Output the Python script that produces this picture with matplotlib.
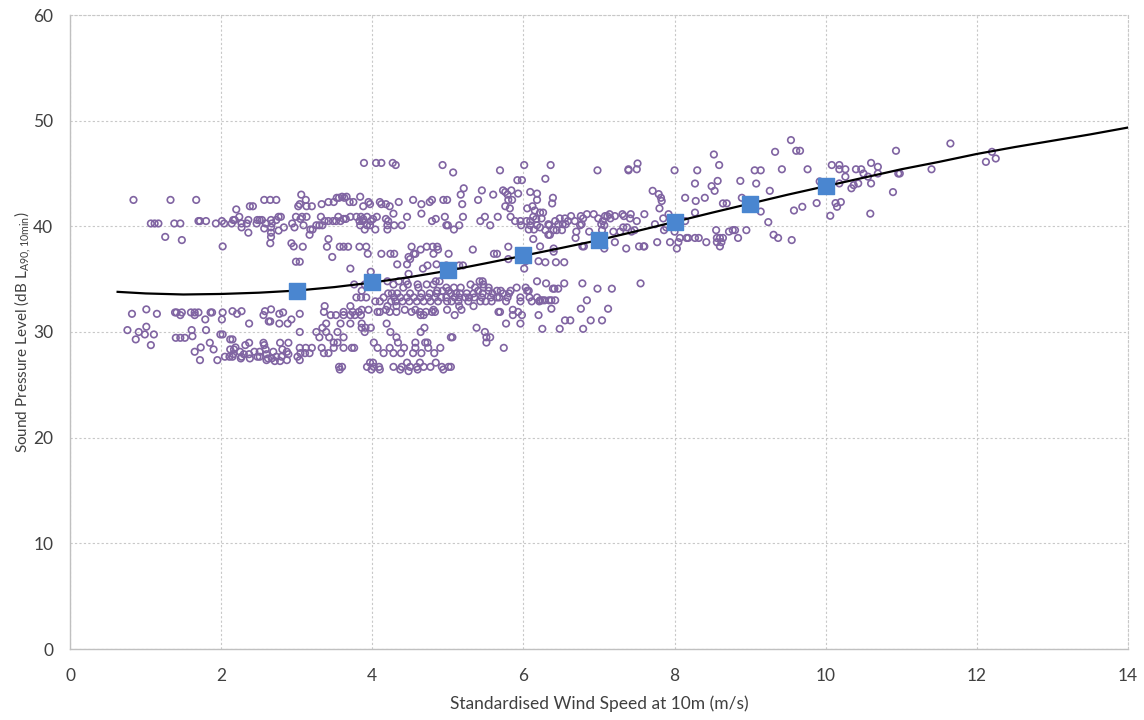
import matplotlib
matplotlib.use("Agg")
import matplotlib.pyplot as plt

# ---------------- data ----------------
# scatter measurements grouped by sound level row: (SPL dB, [wind speeds m/s])
rows_zone_a = [
    (42.5, [0.84, 1.33, 1.67, 2.57, 2.65, 2.73]),
    (41.9, [3.02, 2.38, 2.42]),
    (41.6, [2.2]),
    (40.9, [2.24, 2.76, 2.79, 2.99]),
    (40.6, [2.16, 2.18, 2.36, 2.48, 2.51, 2.54, 2.66, 2.73]),
    (40.5, [1.70, 1.72, 1.8, 2.01]),
    (40.27, [1.07, 1.12, 1.17, 1.38, 1.46, 1.93, 2.04, 2.14, 2.27, 2.34, 2.47, 2.59, 2.67, 2.94]),
    (39.9, [2.27, 2.66, 2.83, 2.97]),
    (39.8, [2.57]),
    (39.6, [2.76]),
    (39.4, [2.36, 2.66]),
    (39.0, [1.26, 2.66]),
    (38.7, [1.48]),
    (38.4, [2.93, 2.65]),
    (38.1, [2.02, 2.96]),
    (36.65, [2.99, 3.04]),
    (32.14, [1.01, 2.66]),
    (31.97, [2.15, 2.27, 2.58]),
    (31.85, [1.39, 1.41, 1.48, 1.6, 1.65, 1.7, 1.86, 1.88, 2.02, 2.82]),
    (31.72, [0.82, 1.15, 2.21, 2.77, 3.04]),
    (31.6, [1.46, 1.65, 2.56]),
    (31.19, [1.79, 2.01, 2.93]),
    (31.0, [2.63, 2.65]),
    (30.8, [2.37, 2.77, 2.88]),
    (30.5, [1.01]),
    (30.18, [0.76, 1.61, 1.8]),
    (30.0, [0.91]),
    (29.77, [0.99, 1.11, 1.99, 2.02]),
    (29.6, [1.62]),
    (29.45, [1.4, 1.46, 1.52]),
    (29.3, [0.87, 2.12, 2.15]),
    (28.98, [1.85, 2.37, 2.56, 2.78, 2.89]),
    (28.76, [1.07, 2.32, 2.57]),
    (28.54, [1.73, 2.19]),
    (28.35, [1.9, 2.12, 2.17, 2.59, 2.81]),
    (28.13, [1.65, 2.25, 2.44, 2.51, 2.69, 2.87]),
    (27.9, [2.16, 2.3, 2.37, 2.6, 2.89]),
    (27.66, [2.05, 2.11, 2.15, 2.27, 2.48, 2.51, 2.73, 2.8, 3.01]),
    (27.5, [2.26, 2.38, 2.62, 2.67]),
    (27.34, [1.72, 1.95, 2.6, 2.87, 3.04]),
    (27.25, [2.71, 2.78]),
]

rows_zone_b = [
    (46.0, [3.89, 4.05, 4.12, 4.27]),
    (45.8, [4.31, 4.93, 6.01]),
    (45.1, [5.07]),
    (45.3, [5.69]),
    (44.37, [5.92, 5.98]),
    (43.6, [5.21]),
    (43.4, [5.45, 5.73, 5.84]),
    (43.25, [5.76, 6.09]),
    (43.1, [5.93, 6.18]),
    (43.0, [3.06, 5.17, 5.6, 5.79]),
    (42.8, [3.6, 3.66, 3.84]),
    (42.7, [3.53, 3.56, 3.63]),
    (42.5, [3.12, 4.54, 4.79, 4.94, 4.99, 5.4, 5.8, 5.85, 6.18]),
    (42.3, [3.42, 3.49, 3.7, 3.75, 3.95, 4.1, 4.35, 4.76]),
    (42.1, [3.04, 3.33, 3.97, 4.12, 4.18, 5.19, 4.65]),
    (41.9, [3.13, 3.2, 3.88, 4.23, 5.76, 6.12]),
    (41.7, [5.82, 6.05]),
    (41.5, [6.15]),
    (41.2, [4.28, 4.65]),
    (40.9, [3.07, 3.13, 3.32, 3.55, 3.71, 3.79, 3.85, 3.93, 4.06, 4.46, 4.96, 5.2, 5.49, 5.66, 5.83, 6.13]),
    (40.7, [3.05, 3.62, 3.65, 3.88, 4.01, 4.18, 4.84, 6.17]),
    (40.5, [3.37, 3.42, 3.48, 3.52, 3.58, 3.83, 3.87, 3.98, 4.21, 4.79, 5.43, 5.89, 5.96, 6.04, 6.09]),
    (40.1, [3.09, 3.26, 3.3, 3.34, 3.84, 3.93, 3.97, 4.2, 4.29, 4.39, 4.98, 5.0, 5.15, 5.56, 5.97, 6.09, 6.18]),
    (39.7, [3.18, 3.21, 3.9, 4.04, 4.2, 5.08, 6.07, 6.14]),
    (39.2, [3.17]),
    (38.8, [3.42, 6.13]),
    (38.07, [3.08, 3.4, 3.57, 3.62, 3.68, 3.83, 3.92, 4.52, 4.72, 4.8, 4.86, 5.8]),
    (37.8, [4.64, 4.87, 5.33]),
    (37.4, [3.94, 4.12, 4.24, 4.29, 4.57, 4.81, 5.01, 4.55, 5.61, 5.65]),
    (37.1, [3.47, 4.48]),
    (36.9, [4.5, 5.8]),
    (36.7, [6.03, 6.2]),
    (36.4, [4.33, 4.46, 4.85]),
    (36.3, [4.73, 4.98, 5.15, 5.2]),
    (36.0, [3.71, 4.67, 6.01]),
    (35.7, [3.98]),
    (35.5, [4.48]),
    (34.8, [4.01, 4.2, 4.35, 4.45, 4.84, 4.89, 5.42, 5.46, 6.18]),
    (34.5, [3.76, 3.9, 4.28, 4.47, 4.6, 4.72, 4.81, 5.3, 5.47]),
    (34.2, [4.41, 4.61, 4.98, 5.08, 5.17, 5.36, 5.47, 5.54, 5.91, 6.03]),
    (33.9, [3.86, 4.86, 4.93, 5.01, 5.4, 5.54, 5.65, 5.7, 5.83, 6.05, 6.07]),
    (33.65, [4.21, 4.26, 4.33, 4.5, 4.65, 4.76, 4.85, 5.04, 5.11, 5.16, 5.25, 5.34, 5.46, 5.59, 5.73, 5.81]),
    (33.27, [3.79, 3.85, 3.92, 4.15, 4.29, 4.37, 4.46, 4.55, 4.64, 4.74, 4.83, 4.91, 4.98, 5.09, 5.15,
             5.23, 5.28, 5.35, 5.45, 5.57, 5.65, 5.68, 5.79, 5.96, 6.08, 6.18]),
    (32.9, [4.04, 4.1, 4.25, 4.31, 4.4, 4.49, 4.59, 4.68, 4.77, 4.87, 4.99, 5.05, 5.14, 5.27, 5.43,
            5.5, 5.58, 5.77, 5.96, 6.11, 6.21]),
    (32.45, [3.37, 3.71, 4.2, 4.32, 5.15, 5.34]),
    (32.1, [3.86, 3.95, 4.18, 4.43, 4.57, 4.81, 4.99, 5.18, 5.86]),
    (31.9, [3.36, 3.62, 3.74, 3.82, 4.07, 4.1, 4.23, 4.32, 4.52, 4.63, 4.71, 4.79, 4.83, 5.67, 5.69, 5.93]),
    (31.6, [3.45, 3.52, 3.62, 3.71, 3.77, 3.85, 4.64, 4.68, 5.09, 5.86, 5.98, 6.2]),
    (30.8, [3.39, 3.58, 3.71, 3.86, 4.19, 5.77, 5.96]),
    (30.4, [3.34, 3.86, 3.91, 3.98, 4.69, 5.38]),
    (30.0, [3.04, 3.26, 3.39, 3.54, 3.9, 4.24, 4.64, 5.49]),
    (29.5, [3.3, 3.43, 3.62, 4.32, 5.04, 5.06, 5.56, 5.51]),
    (29.0, [3.49, 3.54, 4.02, 4.34, 4.57, 4.7, 4.73, 5.51]),
    (28.5, [3.04, 3.12, 3.2, 3.33, 3.49, 3.62, 3.73, 3.76, 4.07, 4.23, 4.42, 4.57, 4.74, 4.9, 5.74]),
    (28.0, [3.05, 3.11, 3.17, 3.36, 3.42, 4.15, 4.28, 4.38, 4.54, 4.65, 4.82]),
    (27.1, [3.97, 4.01, 4.46, 4.63, 4.84]),
    (26.7, [3.56, 3.6, 3.93, 4.02, 4.09, 4.28, 4.39, 4.5, 4.59, 4.68, 4.77, 4.92, 5.01, 5.04]),
    (26.45, [3.57, 3.99, 4.1, 4.37, 4.6, 4.94]),
    (26.3, [4.48]),
]

rows_zone_c = [
    (47.05, [9.33]),
    (46.8, [8.52]),
    (45.95, [7.51]),
    (45.8, [8.59, 6.36]),
    (45.4, [7.39, 7.5]),
    (45.3, [6.98, 7.39, 8.0, 8.3, 9.06, 9.14]),
    (44.5, [6.29]),
    (44.3, [8.57, 8.87]),
    (44.05, [8.27, 9.08]),
    (43.8, [8.49]),
    (43.36, [7.71, 8.53, 9.26]),
    (43.05, [7.79]),
    (42.7, [6.39, 7.82, 8.14, 8.4, 8.89]),
    (42.4, [7.83, 8.28]),
    (42.17, [6.38, 8.64, 8.69]),
    (41.7, [7.8]),
    (41.4, [9.14]),
    (41.3, [6.22, 6.26, 8.27]),
    (41.15, [6.84, 6.93, 7.14, 7.31, 7.42, 7.6, 7.92]),
    (40.97, [6.63, 6.76, 7.08, 7.11, 7.21, 7.33]),
    (40.75, [6.24, 6.48, 6.55, 6.79, 6.99, 7.15, 7.41, 7.85]),
    (40.5, [6.42, 6.59, 6.68, 7.05, 7.5, 8.14]),
    (40.4, [9.24]),
    (40.2, [6.33, 6.46, 6.52, 6.56, 6.77, 7.03, 7.74]),
    (40.1, [6.34, 6.75, 7.07]),
    (39.9, [6.22, 7.32, 7.37, 7.89]),
    (39.64, [6.29, 6.4, 6.44, 6.51, 7.04, 7.47, 7.86, 8.55, 8.77, 8.8, 8.95]),
    (39.5, [6.7, 6.87, 7.19, 7.28, 7.43, 8.0, 8.72]),
    (39.2, [6.33, 6.35, 9.31]),
    (38.9, [6.69, 8.07, 8.16, 8.18, 8.27, 8.32, 8.6, 8.84, 8.64, 8.56, 9.37]),
    (38.5, [7.06, 7.21, 7.77, 7.94, 8.05, 8.42, 8.56, 8.62]),
    (38.1, [6.22, 6.78, 6.8, 7.53, 7.59, 7.6, 8.6]),
    (37.9, [6.4, 7.07, 7.36, 8.03]),
    (37.6, [6.4]),
    (36.6, [6.29, 6.43, 6.54]),
    (34.6, [6.3, 6.54, 6.78, 7.55]),
    (34.1, [6.39, 6.41, 6.46, 6.98, 7.17]),
    (33.0, [6.22, 6.25, 6.28, 6.34, 6.37, 6.42, 6.84]),
    (32.2, [6.37, 6.76, 7.12]),
    (31.1, [6.55, 6.62, 6.89, 7.04]),
    (30.3, [6.25, 6.48, 6.79]),
]

rows_zone_d = [
    (48.16, [9.54]),
    (47.84, [11.65]),
    (47.15, [9.61, 9.66, 10.93]),
    (47.05, [12.2]),
    (46.42, [12.25]),
    (46.1, [12.12]),
    (46.0, [10.6]),
    (45.8, [10.08, 10.18]),
    (45.63, [10.69]),
    (45.4, [9.42, 9.76, 10.18, 10.26, 10.4, 10.47, 11.4]),
    (45.0, [10.5, 10.69, 10.96, 10.98]),
    (44.7, [10.26, 10.56]),
    (44.25, [9.92]),
    (44.06, [10.18, 10.43, 10.6]),
    (43.9, [10.37]),
    (43.6, [10.34]),
    (43.24, [10.89]),
    (42.3, [10.2]),
    (42.2, [9.88, 10.13]),
    (41.85, [9.69, 10.15]),
    (41.5, [9.58]),
    (41.2, [10.59]),
    (41.0, [10.06]),
    (38.7, [9.55]),
]

# bin-averaged levels (blue squares)
bin_speeds = [3, 4, 5, 6, 7, 8, 9, 10]
bin_levels = [33.9, 34.7, 35.85, 37.25, 38.7, 40.45, 42.1, 43.8]

# trend curve
curve_x = [0.63, 1.0, 1.5, 2.0, 2.5, 3.0, 3.5, 4.0, 4.5, 5.0, 5.5, 6.0, 6.5, 7.0,
           7.5, 8.0, 8.5, 9.0, 9.5, 10.0, 10.5, 11.0, 11.5, 12.0, 12.5, 13.0, 13.5, 14.0]
curve_y = [33.8, 33.65, 33.55, 33.6, 33.72, 33.92, 34.25, 34.68, 35.2, 35.8, 36.5, 37.22,
           37.95, 38.7, 39.55, 40.42, 41.3, 42.15, 43.0, 43.8, 44.6, 45.4, 46.1, 46.85,
           47.5, 48.1, 48.7, 49.35]

x_ticks = [0, 2, 4, 6, 8, 10, 12, 14]
y_ticks = [0, 10, 20, 30, 40, 50, 60]

# ---------------- build ----------------
scatter_x, scatter_y = [], []
for rows in (rows_zone_a, rows_zone_b, rows_zone_c, rows_zone_d):
    for lvl, speeds in rows:
        for s in speeds:
            scatter_x.append(s)
            scatter_y.append(lvl)

plt.rcParams['font.family'] = ['Lato', 'DejaVu Sans']

fig = plt.figure(figsize=(11.44, 7.2), dpi=100)
ax = fig.add_axes([70 / 1144, 71 / 720, 1058 / 1144, 634 / 720])

ax.set_xlim(0, 14)
ax.set_ylim(0, 60)
ax.set_xticks(x_ticks)
ax.set_yticks(y_ticks)

ax.grid(True, color='#c8c8c8', linestyle=(0, (2, 2)), linewidth=0.8)
ax.set_axisbelow(True)
for side in ('left', 'bottom'):
    ax.spines[side].set_color('#c0c0c0')
    ax.spines[side].set_linewidth(1.0)
for side in ('top', 'right'):
    ax.spines[side].set_color('#c8c8c8')
    ax.spines[side].set_linestyle((0, (2, 2)))
    ax.spines[side].set_linewidth(0.8)

ax.tick_params(axis='both', length=0, labelsize=12.5, colors='#404040')
ax.tick_params(axis='x', pad=14)
ax.tick_params(axis='y', pad=12)

ax.scatter(scatter_x, scatter_y, s=22, facecolors='none', edgecolors='#8064A2',
           linewidths=1.2, zorder=3)
ax.plot(curve_x, curve_y, color='black', linewidth=1.6, zorder=4)
ax.scatter(bin_speeds, bin_levels, s=120, marker='s', color='#4A86D0', zorder=5)

ax.set_xlabel('Standardised Wind Speed at 10m (m/s)', fontsize=12.5, color='#404040', labelpad=8)
ax.set_ylabel(r'Sound Pressure Level (dB L$_{\mathregular{A90,10min}}$)', fontsize=11,
              color='#404040')
ax.yaxis.set_label_coords(-0.035, 0.5)

fig.savefig('out.png', dpi=100)
